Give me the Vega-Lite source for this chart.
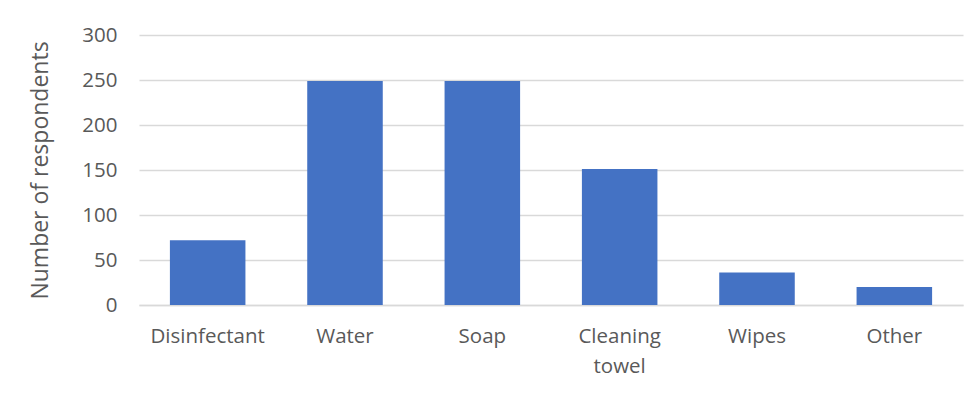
{
  "$schema": "https://vega.github.io/schema/vega-lite/v6.json",
  "width": 824,
  "height": 270,
  "autosize": {"type": "none"},
  "padding": {"left": 139, "top": 35, "right": 17, "bottom": 89},
  "background": "white",
  "data": {"values": [
    {"item": "Disinfectant", "count": 72},
    {"item": "Water", "count": 249},
    {"item": "Soap", "count": 249},
    {"item": "Cleaning towel", "count": 151},
    {"item": "Wipes", "count": 36},
    {"item": "Other", "count": 20}
  ]},
  "mark": {"type": "bar", "color": "#4472c4"},
  "encoding": {
    "x": {
      "field": "item", "type": "nominal", "sort": null,
      "scale": {"paddingInner": 0.45, "paddingOuter": 0.225},
      "axis": {
        "title": null, "labelAngle": 0, "ticks": false,
        "domainColor": "#d9d9d9", "domainWidth": 1.5,
        "labelFont": "Open Sans", "labelFontSize": 20.5, "labelColor": "#595959",
        "labelPadding": 21, "labelLineHeight": 30, "labelBaseline": "top",
        "labelExpr": "datum.value == 'Cleaning towel' ? ['Cleaning', 'towel'] : datum.value"
      }
    },
    "y": {
      "field": "count", "type": "quantitative",
      "scale": {"domain": [0, 300]},
      "axis": {
        "title": "Number of respondents", "values": [0, 50, 100, 150, 200, 250, 300],
        "domain": false, "ticks": false, "gridColor": "#d9d9d9", "gridWidth": 1.5,
        "labelFont": "Open Sans", "labelFontSize": 20.5, "labelColor": "#595959", "labelPadding": 22,
        "titleFont": "Open Sans", "titleFontSize": 23, "titleFontWeight": "normal", "titleColor": "#595959",
        "titlePadding": 29
      }
    }
  },
  "config": {"view": {"stroke": null}}
}
